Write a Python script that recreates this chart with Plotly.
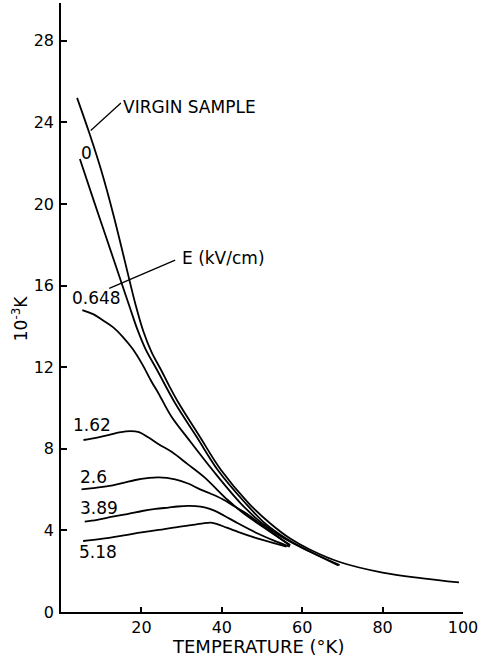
import plotly.graph_objects as go

# ---- data ----
virgin_T = [4.0, 7.0, 10.0, 13.0, 16.0, 18.5, 20.5, 22.5, 24.9, 27.0, 29.3, 34.5, 39.8, 46.7, 52, 57, 62, 69.3, 80, 90, 99]
virgin_K = [25.2, 23.5, 21.65, 19.5, 17.1, 15.1, 13.75, 12.75, 11.86, 11.05, 10.23, 8.6, 6.96, 5.33, 4.35, 3.6, 3.05, 2.45, 1.93, 1.65, 1.45]

zero_T = [4.7, 8.0, 11.0, 14.0, 17.0, 19.0, 21.0, 23.9, 28.4, 33.7, 39.0, 45.9, 51, 56, 62, 69.3]
zero_K = [22.2, 20.25, 18.5, 16.75, 15.0, 13.85, 12.9, 11.86, 10.23, 8.6, 6.96, 5.33, 4.3, 3.6, 2.95, 2.3]

e0648_T = [5.3, 8.0, 10.4, 13.0, 15.3, 17.8, 20.2, 22.5, 24.3, 27.5, 31.6, 37.7, 44.7, 50, 56, 62, 69.0]
e0648_K = [14.8, 14.6, 14.3, 13.95, 13.5, 12.9, 12.15, 11.3, 10.7, 9.57, 8.5, 6.96, 5.33, 4.35, 3.55, 2.95, 2.28]

e162_T = [5.6, 9.0, 12.0, 14.5, 17.3, 19.4, 21.8, 24.5, 27.5, 31.5, 35.7, 41.4, 45, 50, 57]
e162_K = [8.43, 8.55, 8.68, 8.8, 8.87, 8.82, 8.55, 8.2, 7.85, 7.25, 6.6, 5.5, 4.9, 4.2, 3.28]

e26_T = [5.1, 8.0, 12.0, 15.5, 18.5, 21.5, 24.3, 28.4, 31.6, 34.1, 37.0, 40.0, 43.0, 46.3, 50.0, 57.0]
e26_K = [6.01, 6.07, 6.18, 6.33, 6.47, 6.56, 6.6, 6.5, 6.3, 6.06, 5.82, 5.55, 5.2, 4.8, 4.25, 3.25]

e389_T = [5.9, 9.0, 12.8, 16.5, 20.2, 23.5, 26.7, 29.0, 31.6, 33.5, 35.7, 38.0, 40.6, 44.0, 48.8, 53.0, 56.9]
e389_K = [4.43, 4.52, 4.67, 4.8, 4.95, 5.05, 5.12, 5.17, 5.2, 5.19, 5.13, 4.98, 4.72, 4.35, 3.86, 3.5, 3.2]

e518_T = [5.5, 10.0, 16.1, 20.0, 24.3, 28.0, 32.4, 35.0, 37.3, 39.0, 40.6, 44.0, 48.8, 52.5, 56.1]
e518_K = [3.48, 3.58, 3.77, 3.9, 4.02, 4.14, 4.26, 4.33, 4.38, 4.3, 4.18, 3.93, 3.61, 3.4, 3.2]

x_ticks = [20, 40, 60, 80, 100]
y_ticks = [0, 4, 8, 12, 16, 20, 24, 28]

series = [
    (virgin_T, virgin_K), (zero_T, zero_K), (e0648_T, e0648_K),
    (e162_T, e162_K), (e26_T, e26_K), (e389_T, e389_K), (e518_T, e518_K),
]

# curve labels: (text, x, y, xanchor)
labels = [
    ("VIRGIN SAMPLE", 14.9, 24.75, "left"),
    ("0", 6.3, 22.5, "center"),
    ("E (kV/cm)", 29.7, 17.35, "left"),
    ("0.648", 8.95, 15.4, "center"),
    ("1.62", 7.8, 9.17, "center"),
    ("2.6", 8.0, 6.62, "center"),
    ("3.89", 9.4, 5.1, "center"),
    ("5.18", 9.3, 2.94, "center"),
]
# leader lines: (x0, y0, x1, y1)
leaders = [
    (7.4, 23.6, 14.9, 24.95),
    (12.0, 15.86, 28.4, 17.25),
]

FONT = "DejaVu Sans"
fig = go.Figure()
for t, k in series:
    fig.add_trace(go.Scatter(x=t, y=k, mode="lines",
                             line=dict(color="black", width=1.8, shape="spline", smoothing=1.0),
                             showlegend=False, hoverinfo="skip"))

for text, x, y, xa in labels:
    fig.add_annotation(x=x, y=y, text=text, showarrow=False, xanchor=xa, yanchor="middle",
                       font=dict(family=FONT, size=17, color="black"))

for x0, y0, x1, y1 in leaders:
    fig.add_shape(type="line", x0=x0, y0=y0, x1=x1, y1=y1,
                  line=dict(color="black", width=1.3))

fig.add_annotation(xref="paper", yref="paper", x=-0.1, y=0.482, text="10<sup>-3</sup>K",
                   textangle=-90, showarrow=False, xanchor="center", yanchor="middle",
                   font=dict(family=FONT, size=17, color="black"))

fig.add_annotation(xref="paper", yref="paper", x=0.49, y=-0.056, text="TEMPERATURE (°K)",
                   showarrow=False, xanchor="center", yanchor="middle",
                   font=dict(family=FONT, size=18, color="black"))

fig.update_layout(
    width=481, height=656,
    margin=dict(l=61, r=12, t=3, b=44),
    paper_bgcolor="white", plot_bgcolor="white",
    font=dict(family=FONT, size=16, color="black"),
    xaxis=dict(range=[0, 100], tickvals=x_ticks, ticktext=[str(v) for v in x_ticks],
               showgrid=False, zeroline=False, showline=True, linecolor="black", linewidth=1.5,
               ticks="inside", ticklen=5, tickwidth=1.5, tickcolor="black",
               ticklabeloverflow="allow"),
    yaxis=dict(range=[0, 29.85], tickvals=y_ticks, ticktext=[str(v) for v in y_ticks],
               showgrid=False, zeroline=False, showline=True, linecolor="black", linewidth=1.5,
               ticks="inside", ticklen=6, tickwidth=1.5, tickcolor="black", ticklabelstandoff=2),
)

fig.write_html("out.html", config={"displayModeBar": False},
               post_script="document.body.style.margin='0';")
